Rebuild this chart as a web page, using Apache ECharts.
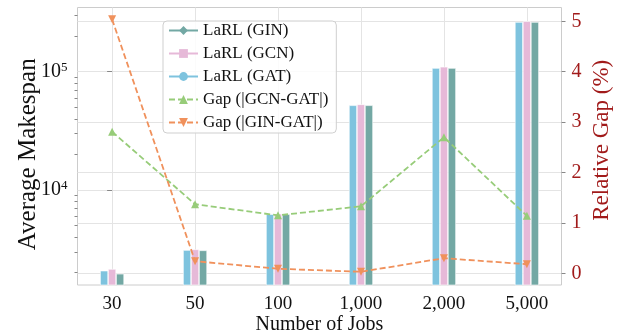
<!DOCTYPE html>
<html>
<head>
<meta charset="utf-8">
<script src="https://cdn.jsdelivr.net/npm/echarts@6/dist/echarts.min.js"></script>
<style>
  html, body { margin: 0; padding: 0; background: #fff; }
  #chart { width: 624px; height: 335px; }
</style>
</head>
<body>
<div id="chart"></div>
<script>
  // job sizes on the x axis
  var categories = ['30', '50', '100', '1,000', '2,000', '5,000'];
  // average makespan (log scale, left axis)
  var gatMakespan = [2080, 3110, 6250, 52000, 107400, 263000];
  var gcnMakespan = [2150, 3150, 6300, 53000, 110000, 267000];
  var ginMakespan = [1960, 3090, 6250, 52000, 107400, 263000];
  // relative gap in % (right axis)
  var gapGcnGat = [2.81, 1.37, 1.15, 1.33, 2.70, 1.14];
  var gapGinGat = [5.04, 0.24, 0.09, 0.03, 0.30, 0.18];
  // tick values
  var leftMajor = [10000, 100000];
  var leftMinor = [2000, 3000, 4000, 5000, 6000, 7000, 8000, 9000,
                   20000, 30000, 40000, 50000, 60000, 70000, 80000, 90000,
                   200000, 300000];
  var rightTicks = [0, 1, 2, 3, 4, 5];
  var xTicks = [0, 1, 2, 3, 4, 5];

  var font = 'Liberation Serif';
  var gridColor = '#e4e4e4';
  var frameColor = '#cccccc';
  var red = '#a11a1a';
  var cGat = '#7ec3de', cGcn = '#e6b9d8', cGin = '#73a8a4';
  var cGreen = '#97cc79', cOrange = '#f0915c';

  function pairs(arr) {
    return arr.map(function (v, i) { return [i, v]; });
  }

  // empty line series, only so the legend shows line + marker icons for the bars
  function legendOnly(name, color, symbol, size) {
    return {
      name: name, type: 'line', data: [],
      symbol: symbol, symbolSize: size,
      lineStyle: { color: color, width: 3 },
      itemStyle: { color: color }
    };
  }

  var myChart = echarts.init(document.getElementById('chart'));
  var option = {
    animation: false,
    textStyle: { fontFamily: font },
    grid: {
      left: 77.5, right: 62.5, top: 7.5, bottom: 50,
      outerBoundsMode: 'none',
      show: true, borderColor: frameColor, borderWidth: 1
    },
    legend: {
      orient: 'vertical',
      left: 163, top: 21,
      padding: [1, 8, 2, 5],
      itemGap: 6,
      itemWidth: 29,
      itemHeight: 11,
      backgroundColor: 'rgba(255,255,255,0.85)',
      borderColor: '#cfcfcf',
      borderWidth: 1,
      borderRadius: 4,
      textStyle: { fontFamily: font, fontSize: 17, color: '#111' },
      data: ['LaRL (GIN)', 'LaRL (GCN)', 'LaRL (GAT)', 'Gap (|GCN-GAT|)', 'Gap (|GIN-GAT|)']
    },
    xAxis: {
      type: 'value',
      min: -0.417,
      max: 5.417,
      name: 'Number of Jobs',
      nameLocation: 'middle',
      nameMoveOverlap: false,
      nameGap: 30,
      nameTextStyle: { fontFamily: font, fontSize: 20, color: '#111' },
      axisLine: { show: false },
      axisTick: { show: false, customValues: xTicks },
      splitLine: { show: true, lineStyle: { color: gridColor, width: 1 } },
      axisLabel: {
        customValues: xTicks,
        fontFamily: font, fontSize: 19, color: '#111', margin: 10,
        formatter: function (v) { return categories[v]; }
      }
    },
    yAxis: [
      {
        type: 'log',
        logBase: 10,
        min: 1574,
        max: 349000,
        position: 'left',
        name: 'Average Makespan',
        nameLocation: 'middle',
        nameMoveOverlap: false,
        nameGap: 37,
        nameTextStyle: { fontFamily: font, fontSize: 25, color: '#111', padding: [0, 16, 0, 0] },
        axisLine: { show: false },
        axisTick: { show: true, customValues: leftMajor, length: 5, lineStyle: { color: '#888' } },
        splitLine: { show: true, lineStyle: { color: gridColor, width: 1 } },
        axisLabel: {
          customValues: leftMajor,
          margin: 10,
          color: '#111',
          formatter: function (v) {
            return '{b|10}{s|' + Math.round(Math.log10(v)) + '}';
          },
          rich: {
            b: { fontFamily: font, fontSize: 20, color: '#111' },
            s: { fontFamily: font, fontSize: 13, color: '#111', padding: [0, 0, 9, 0] }
          }
        }
      },
      {
        type: 'value',
        min: -0.232,
        max: 5.274,
        position: 'right',
        name: 'Relative Gap (%)',
        nameLocation: 'middle',
        nameMoveOverlap: false,
        nameRotate: 90,
        nameGap: 29,
        nameTextStyle: { fontFamily: font, fontSize: 23, color: red, padding: [0, 0, 0, 12] },
        axisLine: { show: false },
        axisTick: { show: true, customValues: rightTicks, length: 4, lineStyle: { color: '#888' } },
        splitLine: { show: true, lineStyle: { color: gridColor, width: 1 } },
        axisLabel: {
          customValues: rightTicks,
          fontFamily: font, fontSize: 20, color: red, margin: 10
        }
      },
      {
        // minor ticks of the log axis
        type: 'log',
        logBase: 10,
        min: 1574,
        max: 349000,
        position: 'left',
        axisLine: { show: false },
        axisTick: { show: true, customValues: leftMinor, length: 3, lineStyle: { color: '#888' } },
        splitLine: { show: false },
        axisLabel: { show: false }
      }
    ],
    series: [
      legendOnly('LaRL (GIN)', cGin, 'diamond', 10),
      legendOnly('LaRL (GCN)', cGcn, 'rect', 9),
      legendOnly('LaRL (GAT)', cGat, 'circle', 9),
      {
        name: 'LaRL (GAT)', type: 'bar', yAxisIndex: 0,
        barWidth: 8, barGap: '0%',
        itemStyle: { color: cGat, borderColor: '#fff', borderWidth: 0.6 },
        data: pairs(gatMakespan)
      },
      {
        name: 'LaRL (GCN)', type: 'bar', yAxisIndex: 0,
        barWidth: 8, barGap: '0%',
        itemStyle: { color: cGcn, borderColor: '#fff', borderWidth: 0.6 },
        data: pairs(gcnMakespan)
      },
      {
        name: 'LaRL (GIN)', type: 'bar', yAxisIndex: 0,
        barWidth: 8, barGap: '0%',
        itemStyle: { color: cGin, borderColor: '#fff', borderWidth: 0.6 },
        data: pairs(ginMakespan)
      },
      {
        name: 'Gap (|GCN-GAT|)', type: 'line', yAxisIndex: 1,
        symbol: 'triangle', symbolSize: 8, z: 5,
        lineStyle: { color: cGreen, width: 1.8, type: [6, 3] },
        itemStyle: { color: cGreen },
        data: pairs(gapGcnGat)
      },
      {
        name: 'Gap (|GIN-GAT|)', type: 'line', yAxisIndex: 1,
        symbol: 'triangle', symbolRotate: 180, symbolSize: 8, z: 5,
        lineStyle: { color: cOrange, width: 1.8, type: [6, 3] },
        itemStyle: { color: cOrange },
        data: pairs(gapGinGat)
      }
    ]
  };
  myChart.setOption(option);
</script>
</body>
</html>
